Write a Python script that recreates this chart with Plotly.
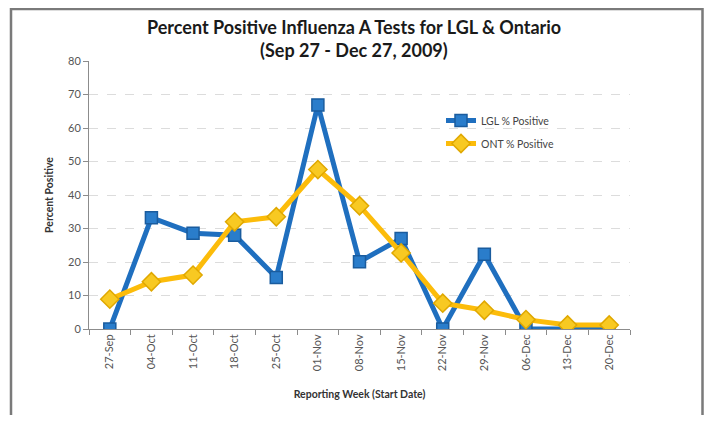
import plotly.graph_objects as go

weeks = ["27-Sep", "04-Oct", "11-Oct", "18-Oct", "25-Oct", "01-Nov", "08-Nov",
         "15-Nov", "22-Nov", "29-Nov", "06-Dec", "13-Dec", "20-Dec"]
lgl_pct = [0, 33.2, 28.6, 28.0, 15.4, 66.9, 20.1, 27.0, 0, 22.3, 0, 0, 0]
ont_pct = [8.9, 14.1, 16.1, 32.0, 33.5, 47.6, 36.8, 22.7, 7.7, 5.6, 2.8, 1.2, 1.2]
y_ticks = [0, 10, 20, 30, 40, 50, 60, 70, 80]
title_lines = ["Percent Positive Influenza A Tests for LGL & Ontario",
               "(Sep 27 - Dec 27, 2009)"]

# page body has an 8px margin on every side
OFF = 8
W, H = 712 - 2 * OFF, 423 - 2 * OFF
L, T = 89 - OFF, 61 - OFF
R = W - (630 - OFF)
B = H - (329 - OFF)
pw = W - L - R
ph = H - T - B

def px_x(x):
    return (x - OFF - L) / pw

def px_y(y):
    return (H - B - (y - OFF)) / ph

fig = go.Figure()
fig.add_trace(go.Scatter(
    x=weeks, y=lgl_pct, name="LGL % Positive", mode="lines+markers",
    legendgroup="lgl",
    line=dict(color="#1F6FBF", width=5),
    marker=dict(symbol="square", size=12, color="#2A7DCB",
                line=dict(color="#1A5C9E", width=1.5)),
))
fig.add_trace(go.Scatter(
    x=weeks, y=ont_pct, name="ONT % Positive", mode="lines+markers",
    legendgroup="ont",
    line=dict(color="#FCBC0A", width=5),
    marker=dict(symbol="diamond", size=14, color="#F8C922",
                line=dict(color="#E0A800", width=1.5)),
))

fig.add_shape(type="rect", xref="paper", yref="paper",
              x0=px_x(11), x1=px_x(702.5), y0=px_y(440), y1=px_y(9),
              line=dict(color="#7a7a7a", width=2.5), fillcolor="rgba(0,0,0,0)",
              layer="below")

for txt, ypix in zip(title_lines, [27, 50]):
    fig.add_annotation(text=txt, xref="paper", yref="paper",
                       x=px_x(354), y=px_y(ypix), xanchor="center", yanchor="middle",
                       showarrow=False,
                       font=dict(family="Lato", size=18, color="#1a1a1a", weight="bold"))

fig.update_layout(
    width=W, height=H,
    margin=dict(l=L, r=R, t=T, b=B),
    paper_bgcolor="white", plot_bgcolor="white",
    font=dict(family="Lato", color="#595959"),
    showlegend=True,
    legend=dict(x=px_x(441), y=px_y(106), xanchor="left", yanchor="top",
                bgcolor="rgba(0,0,0,0)", font=dict(size=10.5, color="#444444"),
                itemwidth=30, tracegroupgap=4),
    xaxis=dict(
        type="category", range=[-0.5, 12.5],
        tickangle=-90, tickfont=dict(size=11, color="#555555"),
        showline=True, linecolor="#8c8c8c", linewidth=1,
        ticks="outside", tickson="boundaries", ticklen=5, tickcolor="#8c8c8c",
        showgrid=False,
        title=dict(text="Reporting Week (Start Date)", standoff=20,
                   font=dict(size=10.5, color="#333333", weight="bold")),
    ),
    yaxis=dict(
        range=[0, 80], tickvals=y_ticks,
        tickfont=dict(size=11, color="#555555"),
        showline=True, linecolor="#8c8c8c", linewidth=1,
        ticks="outside", ticklen=5, tickcolor="#8c8c8c",
        showgrid=True, gridcolor="#dcdcdc", griddash="dash", gridwidth=1,
        zeroline=False,
        title=dict(text="Percent Positive", standoff=12,
                   font=dict(size=10.5, color="#333333", weight="bold")),
    ),
)

fig.write_html("out.html")
